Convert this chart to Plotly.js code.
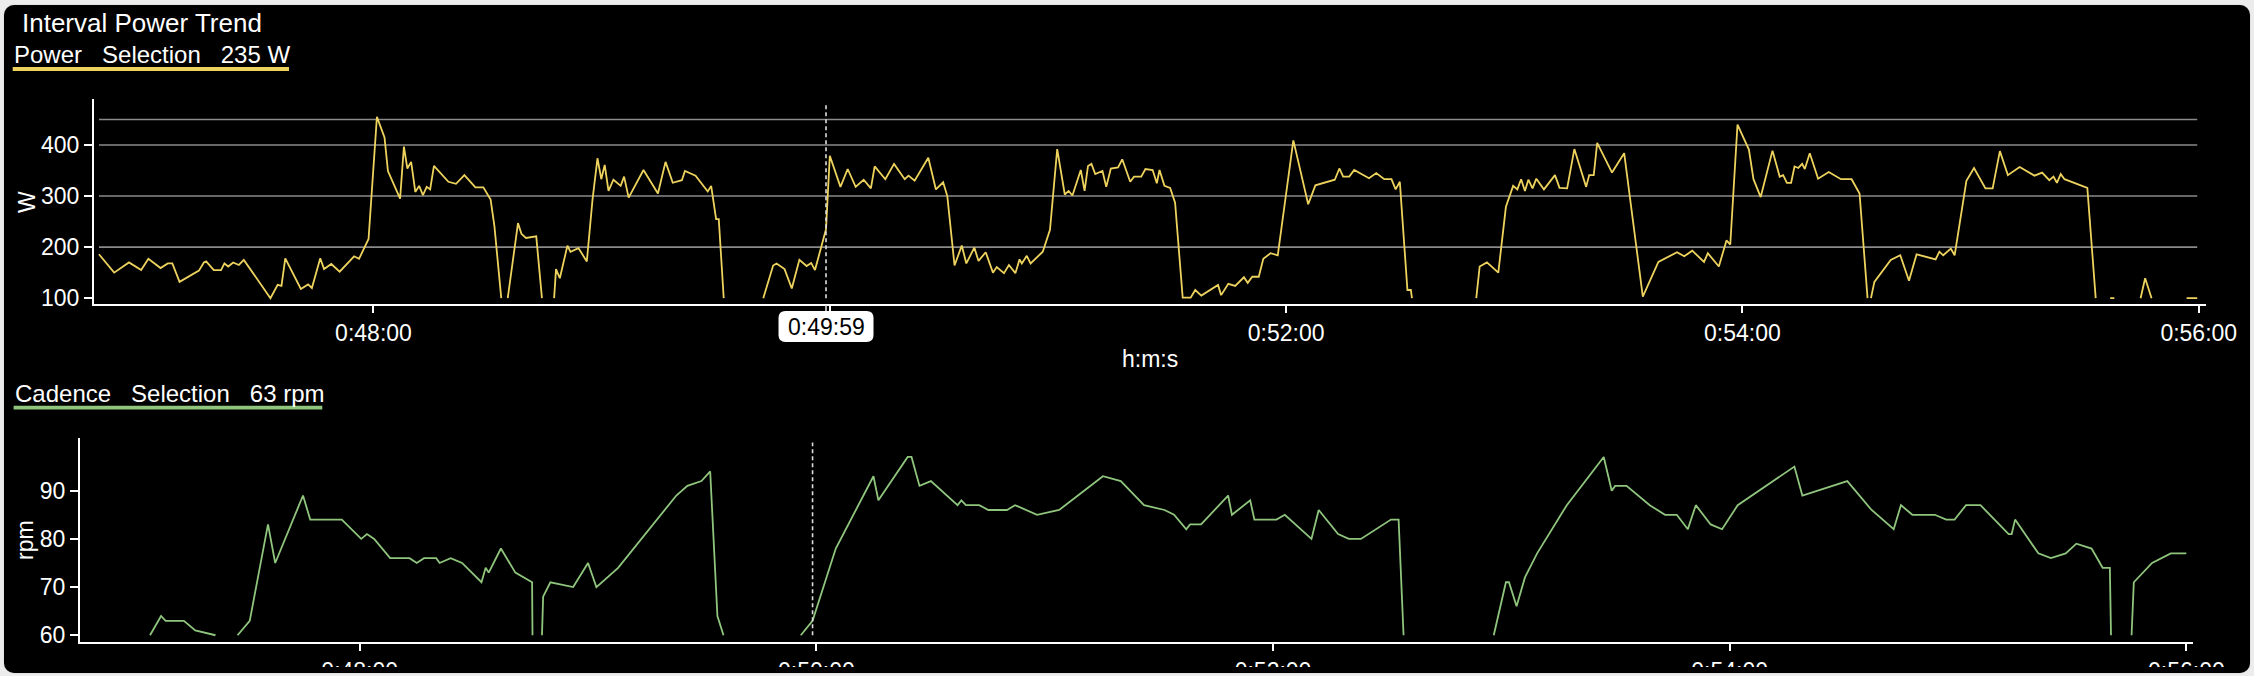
<!DOCTYPE html>
<html>
<head>
<meta charset="utf-8">
<script src="https://cdn.plot.ly/plotly-3.0.1.min.js"></script>
<style>
  html, body { margin: 0; padding: 0; background: #ececec; width: 2254px; height: 676px; overflow: hidden; }
  #panel { position: absolute; left: 4px; top: 5px; width: 2246px; height: 668px; background: #000; border-radius: 10px; box-shadow: 0 0 1px #9a9a9a; overflow: hidden; }
  #clip { position: absolute; left: 0; top: 0; width: 2254px; height: 667px; overflow: hidden; }
  #chart { position: absolute; left: 0; top: 0; width: 2254px; height: 700px; }
</style>
</head>
<body>
<div id="panel"></div>
<div id="clip"><div id="chart"></div></div>
<script>
// ---------------- data ----------------
const chartTitle = 'Interval Power Trend';
const selectionTime = 2999;          // seconds (0:49:59)
const selectionPower = 235;          // W
const selectionCadence = 63;         // rpm

const xTickSeconds = [2880, 3000, 3120, 3240, 3360];

const powerGridLevels = [200, 300, 400, 450];
const powerTicks = [100, 200, 300, 400];
const cadenceTicks = [60, 70, 80, 90];

// elapsed time (s) and power (W); null = dropout
const powerTime = [
  2807.8,2811.8,2815.7,2818.9,2820.8,2824.0,2825.9,2827.1,2829.0,2834.1,2835.4,2836.0,2838.0,2839.9,2840.8,2841.8,2843.1,2844.6,2845.9,
  2852.9,2854.8,2855.8,2856.8,2860.9,2862.8,2863.8,2866.0,2867.0,2868.9,2871.1,2874.9,2876.2,2878.7,2880.9,2882.9,2883.8,2887.0,2888.0,
  2888.9,2889.9,2891.0,2892.0,2893.0,2894.0,2894.9,2895.9,2899.7,2901.7,2903.9,2906.8,2908.9,2910.8,2911.8,2913.6,2914.4,
  2915.3,2918.0,2918.9,2920.1,2922.8,2924.3,2925.9,
  2927.5,2928.0,2929.0,2931.0,2931.8,2933.9,2936.1,2937.6,2938.9,2939.9,2940.8,2941.8,2943.1,2945.0,2945.9,2947.1,2951.0,2954.8,
  2956.8,2958.7,2961.1,2961.9,2964.7,2967.9,2968.8,2970.1,2970.8,2972.1,2977.0,
  2982.5,2985.1,2986.0,2988.1,2990.0,2992.0,2993.9,2995.1,2996.1,2999.0,3000.0,3002.8,3004.7,3006.8,3008.9,3010.8,3011.8,3014.6,
  3016.9,3019.7,3020.7,3022.3,3025.9,3027.9,3029.8,3030.9,3032.8,3034.7,3035.9,3038.0,3039.1,3041.0,3042.9,3043.9,3045.8,3047.1,
  3048.8,3049.9,3050.5,3051.8,3052.8,3056.0,3057.9,3059.8,3061.8,3062.8,3063.8,3066.0,3067.0,3067.9,3068.8,3069.8,3071.7,3072.7,
  3073.9,3075.8,3076.9,3079.0,3080.0,3081.9,3083.0,3084.9,3086.0,3086.7,3088.0,3089.5,3090.8,3092.8,3094.9,3096.1,3097.7,3102.1,
  3102.9,3104.8,3106.6,3108.9,3109.9,3111.1,3112.8,3114.0,3115.9,3117.8,3121.9,3125.8,3127.7,3132.8,3134.0,3135.0,3136.6,3137.9,
  3141.8,3143.7,3145.8,3147.7,3148.8,3149.9,3151.9,3152.8,3153.1,3160.0,
  3170.0,3170.9,3172.8,3175.8,3177.8,3179.7,3180.8,3181.8,3182.8,3183.7,3184.8,3185.8,3187.8,3190.7,3191.9,3193.9,3195.8,3198.9,
  3199.7,3200.9,3201.8,3205.7,3208.9,3213.8,3217.9,3222.8,3224.7,3226.8,3229.9,3230.9,3233.8,3235.8,3236.8,3238.7,3241.7,3242.9,
  3244.8,3247.9,3249.8,3250.7,3251.7,3252.8,3253.7,3254.7,3255.7,3256.4,3257.7,3259.9,3262.7,3265.9,3268.7,3270.8,3272.9,3273.3,
  3273.8,3274.7,3279.0,3281.5,3283.8,3285.8,3290.8,3291.8,3292.8,3294.8,3295.8,3298.9,3300.9,3303.9,3305.8,3307.7,3309.8,3312.9,
  3316.8,3318.8,3320.7,3321.8,3322.7,3323.7,3324.7,3330.7,3332.9,3334.0,
  3336.7,3337.8,3340.0,
  3344.7,3345.9,3347.6,3350.0,
  3356.8,3359.6
];
const powerWatts = [
  186,150,170,155,177,159,168,168,132,154,170,172,155,155,168,162,170,165,175,
  100,126,124,178,118,127,120,178,157,167,152,182,177,216,455,415,349,295,397,
  354,367,308,320,302,318,313,359,328,324,341,317,317,293,241,100,null,
  100,247,226,218,221,100,null,
  100,157,139,203,191,198,172,293,374,333,361,310,332,320,338,297,351,305,
  367,326,331,349,340,309,320,255,255,100,null,
  100,164,168,157,119,175,163,169,155,235,379,318,353,318,332,315,358,333,
  363,333,340,330,375,313,327,300,164,203,168,199,173,190,150,161,149,165,
  149,176,168,183,168,191,234,392,303,310,301,351,310,359,363,343,349,318,
  354,356,372,328,338,338,353,351,325,351,320,316,287,101,101,116,105,126,
  106,128,124,141,130,142,142,177,188,184,409,284,321,332,354,338,338,351,
  335,345,333,333,313,328,116,116,100,null,
  100,162,170,150,279,320,313,333,310,332,315,334,313,341,316,315,392,318,
  341,341,404,346,384,103,171,190,182,193,171,188,162,213,205,440,391,333,
  298,389,338,341,326,326,358,355,363,353,384,334,347,333,333,305,100,null,
  100,132,175,184,134,186,176,191,184,197,184,330,355,315,315,388,341,357,
  340,346,331,338,326,343,333,316,100,null,
  100,100,null,
  100,139,100,null,
  100,100
];

// elapsed time (s) and cadence (rpm); null = dropout
const cadenceTime = [
  2824.9,2827.8,2829.0,2833.8,2836.8,2842.1,2845.0,
  2847.9,2851.1,2855.9,2857.8,2865.1,2867.0,2875.3,2880.4,2881.9,2883.8,2888.0,2893.1,2895.0,2896.9,2900.1,2901.0,2903.9,2906.9,
  2912.0,2913.1,2913.9,2917.1,2920.9,2925.3,2925.4,2926.5,
  2927.9,2928.2,2930.1,2936.1,2940.0,2942.2,2947.9,2963.2,2966.1,2969.8,2972.1,2974.0,2975.6,2985.0,
  2995.9,2999.0,3005.1,3011.0,3015.0,3016.3,3024.0,3025.0,3027.1,3030.1,3037.1,3038.1,3039.3,3042.8,3045.2,3050.1,3052.2,3058.0,
  3063.8,3075.3,3080.0,3086.1,3091.5,3094.0,3097.2,3098.2,3101.1,3108.2,3109.2,3114.0,3115.1,3120.9,3123.1,3130.1,3132.0,3137.1,
  3139.9,3143.1,3151.0,3153.0,3154.3,3165.0,
  3178.0,3181.2,3182.0,3184.0,3186.2,3189.4,3197.2,3206.9,3209.0,3209.9,3212.9,3219.0,3223.0,3226.1,3229.0,3231.1,3235.0,3238.0,
  3242.1,3257.0,3259.1,3270.9,3277.3,3283.1,3285.0,3288.0,3293.9,3296.9,3299.1,3302.1,3305.9,3313.3,3314.1,3315.0,3321.1,3324.4,
  3328.3,3331.1,3335.1,3338.0,3339.9,3340.2,3342.0,
  3345.6,3346.2,3351.0,3355.9,3360.0
];
const cadenceRpm = [
  60,64,63,63,61,60,null,
  60,63,83,75,89,84,84,80,81,80,76,76,75,76,76,75,76,75,
  71,74,73,78,73,71,60,null,
  60,68,71,70,75,70,74,89,91,92,94,64,60,null,
  60,63,78,87,93,88,97,97,91,92,87,88,87,87,86,86,87,85,
  86,93,92,87,86,85,82,83,83,89,85,88,84,84,85,80,86,81,
  80,80,84,84,60,null,
  60,71,71,66,72,77,87,97,90,91,91,87,85,85,82,87,83,82,
  87,95,89,92,86,82,87,85,85,84,84,87,87,81,81,84,77,76,
  77,79,78,74,74,60,null,
  60,71,75,77,77
];

// ---------------- helpers (layout geometry) ----------------
const W = 2254, H = 700;
const fx = px => px / W;
const fy = py => 1 - py / H;
const fmt = s => {
  const h = Math.floor(s / 3600), m = Math.floor((s % 3600) / 60), sec = Math.round(s % 60);
  return h + ':' + String(m).padStart(2, '0') + ':' + String(sec).padStart(2, '0');
};
const FONT = 'Liberation Sans, Arial, Helvetica, sans-serif';
const YELLOW = '#edd35e';
const GREEN = '#8fc57d';
const xRange = [2806.5, 3361.8];
const tMin = Math.min(...powerTime), tMax = Math.max(...powerTime);

const axisCommon = {
  showline: true, linecolor: '#fff', linewidth: 2,
  ticks: 'outside', ticklen: 7, tickwidth: 2, tickcolor: '#fff',
  showgrid: false, zeroline: false,
  tickfont: { family: FONT, size: 23, color: '#fff' },
  fixedrange: true
};

const traces = [
  { x: powerTime, y: powerWatts, xaxis: 'x', yaxis: 'y', type: 'scatter', mode: 'lines',
    connectgaps: false, line: { color: YELLOW, width: 1.8 }, hoverinfo: 'skip' },
  { x: cadenceTime, y: cadenceRpm, xaxis: 'x2', yaxis: 'y2', type: 'scatter', mode: 'lines',
    connectgaps: false, line: { color: GREEN, width: 1.8 }, hoverinfo: 'skip' }
];

const boxW = 95, boxH = 31, r = 7;
const hx = boxW / 2, hy = boxH / 2;
const roundRect = `M ${-hx + r} ${-hy} L ${hx - r} ${-hy} Q ${hx} ${-hy} ${hx} ${-hy + r} L ${hx} ${hy - r} Q ${hx} ${hy} ${hx - r} ${hy} L ${-hx + r} ${hy} Q ${-hx} ${hy} ${-hx} ${hy - r} L ${-hx} ${-hy + r} Q ${-hx} ${-hy} ${-hx + r} ${-hy} Z`;

const shapes = [];
powerGridLevels.forEach(v => shapes.push({
  type: 'line', xref: 'x', yref: 'y', x0: tMin, x1: tMax, y0: v, y1: v,
  line: { color: '#8a8a8a', width: 1.6 }, layer: 'below'
}));
shapes.push({ type: 'line', xref: 'x', yref: 'y', x0: selectionTime, x1: selectionTime, y0: 100, y1: 478,
  line: { color: '#dddddd', width: 1.6, dash: '4px,3px' }, layer: 'above' });
shapes.push({ type: 'line', xref: 'x2', yref: 'y2', x0: selectionTime, x1: selectionTime, y0: 60, y1: 100,
  line: { color: '#dddddd', width: 1.6, dash: '4px,3px' }, layer: 'above' });
shapes.push({ type: 'line', xref: 'x', yref: 'paper', x0: selectionTime, x1: selectionTime, y0: fy(305), y1: fy(312),
  line: { color: '#dddddd', width: 1.6 }, layer: 'above' });
shapes.push({ type: 'path', xref: 'x', yref: 'paper', xsizemode: 'pixel', ysizemode: 'pixel',
  xanchor: selectionTime, yanchor: fy(326.6), path: roundRect,
  fillcolor: '#ffffff', line: { width: 0 }, layer: 'above' });
shapes.push({ type: 'rect', xref: 'paper', yref: 'paper', x0: fx(12.7), x1: fx(289), y0: fy(71), y1: fy(67),
  fillcolor: YELLOW, line: { width: 0 } });
shapes.push({ type: 'rect', xref: 'paper', yref: 'paper', x0: fx(13.6), x1: fx(322.3), y0: fy(409.5), y1: fy(405.8),
  fillcolor: GREEN, line: { width: 0 } });

const NB = '\u00a0\u00a0\u00a0';
const ann = (o) => Object.assign({ showarrow: false, xref: 'paper', yref: 'paper', xanchor: 'center', yanchor: 'middle',
  font: { family: FONT, size: 23, color: '#fff' }, borderpad: 0 }, o);
const annotations = [
  ann({ text: chartTitle, x: fx(20.7), y: fy(23.2), xanchor: 'left', font: { family: FONT, size: 26, color: '#fff' } }),
  ann({ text: 'Power' + NB + 'Selection' + NB + selectionPower + ' W', x: fx(13.3), y: fy(54.3), xanchor: 'left', font: { family: FONT, size: 24, color: '#fff' } }),
  ann({ text: 'Cadence' + NB + 'Selection' + NB + selectionCadence + ' rpm', x: fx(13.6), y: fy(393.3), xanchor: 'left', font: { family: FONT, size: 24, color: '#fff' } }),
  ann({ text: 'W', x: fx(27), y: fy(202), textangle: -90 }),
  ann({ text: 'rpm', x: fx(25), y: fy(540), textangle: -90 }),
  ann({ text: 'h:m:s', x: fx(1150), y: fy(358.8) }),
  ann({ text: fmt(selectionTime), xref: 'x', x: selectionTime, y: fy(326.6), font: { family: FONT, size: 23, color: '#000' } })
];

// top axis: the tick under the selection label keeps its mark, its text is replaced by the selection label
const topTickText = xTickSeconds.map(s => Math.abs(s - selectionTime) < 30 ? '' : fmt(s));

const layout = {
  width: W, height: H,
  margin: { l: 0, r: 0, t: 0, b: 0 },
  paper_bgcolor: 'rgba(0,0,0,0)', plot_bgcolor: 'rgba(0,0,0,0)',
  showlegend: false, hovermode: false,
  font: { family: FONT, color: '#fff' },
  xaxis: Object.assign({}, axisCommon, { domain: [fx(94), fx(2205.6)], anchor: 'y', range: xRange,
    tickmode: 'array', tickvals: xTickSeconds, ticktext: topTickText }),
  yaxis: Object.assign({}, axisCommon, { domain: [fy(304), fy(99.3)], anchor: 'x', range: [88.6, 489.5],
    tickmode: 'array', tickvals: powerTicks, ticklen: 8 }),
  xaxis2: Object.assign({}, axisCommon, { domain: [fx(80), fx(2193.2)], anchor: 'y2', range: xRange,
    tickmode: 'array', tickvals: xTickSeconds, ticktext: xTickSeconds.map(fmt) }),
  yaxis2: Object.assign({}, axisCommon, { domain: [fy(642), fy(437.7)], anchor: 'x2', range: [58.6, 101.0],
    tickmode: 'array', tickvals: cadenceTicks, ticklen: 8 }),
  shapes: shapes,
  annotations: annotations
};

Plotly.newPlot('chart', traces, layout, { staticPlot: true, displayModeBar: false, responsive: false });
</script>
</body>
</html>
